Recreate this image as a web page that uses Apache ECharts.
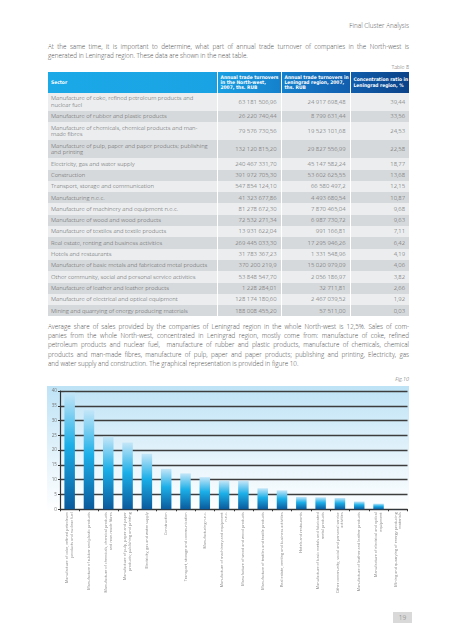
<!DOCTYPE html>
<html>
<head>
<meta charset="utf-8">
<script src="https://cdn.jsdelivr.net/npm/echarts@6/dist/echarts.min.js"></script>
<style>
  html, body { margin: 0; padding: 0; background: #fff; }
  body { width: 453px; height: 640px; position: relative; overflow: hidden; font-family: "Open Sans", "Noto Sans", sans-serif; font-weight: 300; color: #4a4a4a; }
  .abs { position: absolute; }
  .hdr { right: 44px; top: 21px; font-size: 6.4px; color: #555; }
  .para { left: 48px; width: 361px; font-size: 6.3px; line-height: 9.2px; color: #4a4a4a; }
  .para div { text-align: justify; text-align-last: justify; white-space: nowrap; height: 9.2px; }
  .para div.last { text-align-last: left; }
  .cap { right: 44px; font-size: 5.4px; color: #555; }
  table { position: absolute; left: 48px; top: 72px; border-collapse: collapse; table-layout: fixed; width: 361px; font-size: 5.9px; color: #5a5a5a; }
  th { color: #fff; font-family: "Liberation Sans Narrow", "DejaVu Sans Condensed", sans-serif; font-weight: bold; font-size: 4.9px; line-height: 5.2px; text-align: left; vertical-align: middle; padding: 0 2px 0 3px; height: 21px; border-left: 1px solid #fff; white-space: nowrap; overflow: hidden; }
  th:first-child { border-left: none; }
  td { padding: 0 4px 0 3px; line-height: 6.6px; vertical-align: middle; border-left: 1px solid #fff; white-space: nowrap; }
  td:first-child { border-left: none; }
  td.n { text-align: right; }
  tr.s td { height: 11.3px; }
  tr.d td { height: 18px; }
  tr.o td { background: #ebedef; }
  tr.e td { background: #d6d9dc; }
  #chart { position: absolute; left: 0; top: 380px; width: 453px; height: 232px; }
  .pg { left: 393px; top: 612px; width: 19px; height: 11px; background: #d9d9d9; color: #777; font-size: 6.5px; line-height: 11px; text-align: center; }
</style>
</head>
<body>
<div class="abs hdr">Final Cluster Analysis</div>
<div class="abs para" style="top:42px">
  <div>At the same time, it is important to determine, what part of annual trade turnover of companies in the North-west is</div>
  <div class="last">generated in Leningrad region. These data are shown in the neat table.</div>
</div>
<div class="abs cap" style="top:63px">Table 8</div>
<table id="tbl"></table>
<div class="abs para" style="top:322px">
  <div>Average share of sales provided by the companies of Leningrad region in the whole North-west is 12,5%. Sales of com-</div>
  <div>panies from the whole North-west, concentrated in Leningrad region, mostly come from: manufacture of coke, refined</div>
  <div>petroleum products and nuclear fuel,&nbsp; manufacture of rubber and plastic products, manufacture of chemicals, chemical</div>
  <div>products and man-made fibres, manufacture of pulp, paper and paper products; publishing and printing, Electricity, gas</div>
  <div class="last">and water supply and construction. The graphical representation is provided in figure 10.</div>
</div>
<div class="abs cap" style="top:375px;font-style:italic">Fig.10</div>
<div id="chart"></div>
<div class="abs pg">19</div>
<script>
// ---- Data ----
const headers = ["Sector", "Annual trade turnovers in the North-west, 2007, ths. RUB", "Annual trade turnovers in Leningrad region, 2007, ths. RUB", "Concentration ratio in Leningrad region, %"];
const sectors = [
  "Manufacture of coke, refined petroleum products and nuclear fuel",
  "Manufacture of rubber and plastic products",
  "Manufacture of chemicals, chemical products and man-made fibres",
  "Manufacture of pulp, paper and paper products; publishing and printing",
  "Electricity, gas and water supply",
  "Construction",
  "Transport, storage and communication",
  "Manufacturing n.e.c.",
  "Manufacture of machinery and equipment n.e.c.",
  "Manufacture of wood and wood products",
  "Manufacture of textiles and textile products",
  "Real estate, renting and business activities",
  "Hotels and restaurants",
  "Manufacture of basic metals and fabricated metal products",
  "Other community, social and personal service activities",
  "Manufacture of leather and leather products",
  "Manufacture of electrical and optical equipment",
  "Mining and quarrying of energy producing materials"
];
const turnoverNW = ["63 181 506,96","26 220 740,44","79 576 730,56","132 120 815,20","240 467 331,70","391 972 705,30","547 854 124,10","41 323 677,86","81 278 672,30","72 532 271,34","13 931 622,04","269 445 033,30","31 783 367,23","370 200 219,9","53 848 547,70","1 228 284,01","128 174 180,60","188 008 455,20"];
const turnoverLen = ["24 917 698,48","8 799 631,44","19 523 101,68","29 827 556,99","45 147 582,24","53 602 625,55","66 580 497,2","4 493 680,54","7 870 465,04","6 987 730,72","991 166,81","17 295 946,26","1 331 548,96","15 020 979,09","2 056 186,97","32 711,81","2 467 039,52","57 511,00"];
const ratioText = ["39,44","33,56","24,53","22,58","18,77","13,68","12,15","10,87","9,68","9,63","7,11","6,42","4,19","4,06","3,82","2,66","1,92","0,03"];
const ratio = [39.44,33.56,24.53,22.58,18.77,13.68,12.15,10.87,9.68,9.63,7.11,6.42,4.19,4.06,3.82,2.66,1.92,0.03];
const chartLabels = [
  "Manufacture of coke, refined petroleum\nproducts and nuclear fuel",
  "Manufacture of rubber and plastic products",
  "Manufacture of chemicals, chemical products\nand man-made fibres",
  "Manufacture of pulp, paper and paper\nproducts; publishing and printing",
  "Electricity, gas and water supply",
  "Construction",
  "Transport, storage and communication",
  "Manufacturing n.e.c.",
  "Manufacture of machinery and equipment\nn.e.c.",
  "Manufacture of wood and wood products",
  "Manufacture of textiles and textile products",
  "Real estate, renting and business activities",
  "Hotels and restaurants",
  "Manufacture of basic metals and fabricated\nmetal products",
  "Other community, social and personal service\nactivities",
  "Manufacture of leather and leather products",
  "Manufacture of electrical and optical\nequipment",
  "Mining and quarrying of energy producing\nmaterials"
];
const yTicks = [0, 5, 10, 15, 20, 25, 30, 35, 40];
const doubleRows = [0, 2, 3];
const sectorBreaks = {0: "Manufacture of coke, refined petroleum products and<br>nuclear fuel", 2: "Manufacture of chemicals, chemical products and man-<br>made fibres", 3: "Manufacture of pulp, paper and paper products; publishing<br>and printing"};

// ---- Table ----
const tbl = document.getElementById('tbl');
let html = '<colgroup><col style="width:169px"><col style="width:64px"><col style="width:69px"><col style="width:59px"></colgroup>';
html += '<tr style="background:linear-gradient(to right,#1ba9e8 0%,#1aa3e4 45%,#1585cf 62%,#1264b4 80%,#0b4288 100%)">' +
  '<th>' + headers[0] + '</th>' +
  '<th>Annual trade turnovers<br>in the North-west,<br>2007, ths. RUB</th>' +
  '<th>Annual trade turnovers in<br>Leningrad region, 2007,<br>ths. RUB</th>' +
  '<th>Concentration ratio in<br>Leningrad region, %</th></tr>';
sectors.forEach((s, i) => {
  const cls = (doubleRows.includes(i) ? 'd' : 's') + (i % 2 === 0 ? ' o' : ' e');
  html += '<tr class="' + cls + '"><td>' + (sectorBreaks[i] || s) + '</td><td class="n">' + turnoverNW[i] +
    '</td><td class="n">' + turnoverLen[i] + '</td><td class="n">' + ratioText[i] + '</td></tr>';
});
tbl.innerHTML = html;

// ---- Chart ----
const FONT = '"Open Sans", "Noto Sans", "DejaVu Sans", sans-serif';
const chart = echarts.init(document.getElementById('chart'), null, { renderer: 'canvas' });
chart.setOption({
  animation: false,
  backgroundColor: 'transparent',
  textStyle: { fontFamily: FONT },
  graphic: [{
    type: 'rect', z: -100, silent: true,
    shape: { x: 47, y: 6, width: 362, height: 126 },
    style: { fill: new echarts.graphic.LinearGradient(0, 0, 0, 1, [
      { offset: 0, color: '#bee3f6' }, { offset: 0.55, color: '#e4f3fb' }, { offset: 1, color: '#ffffff' }]) }
  }],
  grid: { left: 60, right: 45.5, top: 11, height: 118.3 },
  xAxis: {
    type: 'category', data: chartLabels,
    axisLine: { lineStyle: { color: '#333', width: 1.2 } },
    axisTick: { show: true, length: 2, lineStyle: { color: '#333' } },
    axisLabel: { interval: 0, rotate: 90, fontSize: 3.8, lineHeight: 4.6, color: '#8a8a8a', margin: 3, fontFamily: FONT }
  },
  yAxis: {
    type: 'value', min: 0, max: 40, interval: 5,
    axisLine: { show: true, lineStyle: { color: '#333', width: 1.2 } },
    axisTick: { show: true, length: 2, lineStyle: { color: '#333' } },
    axisLabel: { fontSize: 4.6, color: '#777', margin: 3, fontFamily: FONT,
      formatter: v => yTicks.includes(v) ? String(v) : '' },
    splitLine: { lineStyle: { color: '#3d3d3d', width: 1.3 } }
  },
  series: [{
    type: 'bar', data: ratio, barWidth: 10.5,
    itemStyle: { color: new echarts.graphic.LinearGradient(0, 0, 0, 1, [
      { offset: 0, color: '#c4e6f8' }, { offset: 0.45, color: '#1cafe8' }, { offset: 1, color: '#0a5a9c' }]) }
  }]
});
</script>
</body>
</html>
